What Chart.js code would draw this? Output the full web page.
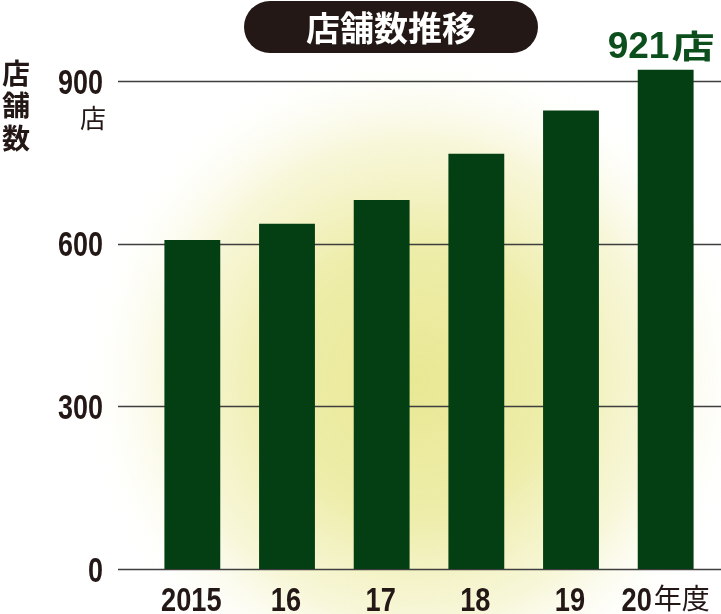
<!DOCTYPE html>
<html>
<head>
<meta charset="utf-8">
<script src="https://cdn.jsdelivr.net/npm/chart.js@4.4.1/dist/chart.umd.min.js"></script>
<style>
  html, body { margin: 0; padding: 0; background: #fff; }
  #wrap { width: 721px; height: 614px; }
</style>
</head>
<body>
<div id="wrap"><canvas id="mycanvas" width="721" height="614"></canvas></div>
<script>
var years = ["2015", "16", "17", "18", "19", "20"];
var stores = [607, 637, 681, 766, 846, 921];
var yTicks = [0, 300, 600, 900];
var chartTitle = "店舗数推移";
var yTitle = ["店", "舗", "数"];
var unit = "店";
var lastSuffix = "年度";

var num = '"Liberation Sans", Arial, sans-serif';
var jp = '"Noto Sans CJK JP", sans-serif';
var ink = "#231815";
var barColor = "#033f12";

// draw text squeezed horizontally (the original uses a condensed face)
function squeezed(ctx, text, x, y, sx, align){
	var w = ctx.measureText(text).width * sx;
	var left = align === "right" ? x - w : (align === "center" ? x - w / 2 : x);
	ctx.save();
	ctx.translate(left, y);
	ctx.scale(sx, 1);
	ctx.textAlign = "left";
	ctx.fillText(text, 0, 0);
	ctx.restore();
	return w;
}

var decor = {
	id: "decor",
	beforeDraw: function(chart){
		var ctx = chart.ctx;
		ctx.save();
		var g = ctx.createRadialGradient(415, 380, 0, 415, 380, 340);
		g.addColorStop(0, "rgba(233,232,148,1)");
		g.addColorStop(0.4, "rgba(237,236,165,0.95)");
		g.addColorStop(0.7, "rgba(244,243,200,0.7)");
		g.addColorStop(1, "rgba(255,255,255,0)");
		ctx.fillStyle = g;
		ctx.fillRect(0, 0, chart.width, chart.height);
		ctx.restore();
	},
	beforeDatasetsDraw: function(chart){
		var ctx = chart.ctx, y = chart.scales.y;
		ctx.save();
		ctx.strokeStyle = "#3e3e3e";
		ctx.lineWidth = 1.5;
		yTicks.forEach(function(v){
			var py = Math.round(y.getPixelForValue(v)) + 0.5;
			ctx.beginPath();
			ctx.moveTo(118, py);
			ctx.lineTo(chart.width, py);
			ctx.stroke();
		});
		ctx.restore();
	},
	afterDraw: function(chart){
		var ctx = chart.ctx, x = chart.scales.x, y = chart.scales.y;
		ctx.save();

		// title pill
		var l = 244, r = 538, t = 1, b = 53, rad = (b - t) / 2;
		ctx.fillStyle = ink;
		ctx.beginPath();
		ctx.moveTo(l + rad, t);
		ctx.lineTo(r - rad, t);
		ctx.arc(r - rad, t + rad, rad, -Math.PI / 2, Math.PI / 2);
		ctx.lineTo(l + rad, b);
		ctx.arc(l + rad, t + rad, rad, Math.PI / 2, Math.PI * 1.5);
		ctx.fill();
		ctx.fillStyle = "#fff";
		ctx.font = "bold 34px " + jp;
		ctx.textAlign = "center";
		ctx.textBaseline = "middle";
		ctx.fillText(chartTitle, 391, 28);

		// vertical axis title
		ctx.fillStyle = ink;
		ctx.font = "bold 28px " + jp;
		yTitle.forEach(function(ch, i){
			ctx.fillText(ch, 16, 73 + i * 32.5);
		});

		// y tick labels
		ctx.font = "bold 35px " + num;
		ctx.textBaseline = "alphabetic";
		yTicks.forEach(function(v){
			squeezed(ctx, String(v), 103, y.getPixelForValue(v) + 12.5, 0.77, "right");
		});
		ctx.font = "26px " + jp;
		ctx.textBaseline = "middle";
		ctx.textAlign = "center";
		ctx.fillText(unit, 93, 118);

		// category labels
		ctx.textBaseline = "alphabetic";
		years.forEach(function(lab, i){
			var px = x.getPixelForValue(i);
			ctx.font = "bold 34px " + num;
			if (i === years.length - 1) {
				var w1 = ctx.measureText(lab).width * 0.8;
				ctx.font = "28px " + jp;
				var w2 = ctx.measureText(lastSuffix).width;
				var start = px - (w1 + 2 + w2) / 2;
				ctx.font = "bold 34px " + num;
				squeezed(ctx, lab, start, 611, 0.8, "left");
				ctx.font = "28px " + jp;
				ctx.textAlign = "left";
				ctx.fillText(lastSuffix, start + w1 + 2, 609);
			} else {
				squeezed(ctx, lab, px - 1, 611, 0.8, "center");
			}
		});

		// value callout on the latest bar
		var last = stores.length - 1;
		var bx = x.getPixelForValue(last);
		var by = y.getPixelForValue(stores[last]);
		ctx.fillStyle = "#0c4f1c";
		ctx.font = "bold 37px " + num;
		var w3 = ctx.measureText(String(stores[last])).width;
		var sx = bx - 58;
		ctx.textAlign = "left";
		ctx.fillText(String(stores[last]), sx, by - 12);
		ctx.font = "bold 32px " + jp;
		squeezed(ctx, unit, sx + w3 + 2, by - 12, 1.35, "left");
		ctx.restore();
	}
};

var ctx = document.getElementById("mycanvas");
var storeChart = new Chart(ctx, {
	type: "bar",
	data: {
		labels: years,
		datasets: [{
			label: "店舗数",
			data: stores,
			backgroundColor: barColor,
			borderWidth: 0,
			categoryPercentage: 1,
			barPercentage: 0.59
		}]
	},
	options: {
		responsive: false,
		animation: false,
		layout: { padding: { top: 27, bottom: 45, right: 8, left: 0 } },
		plugins: { legend: { display: false }, tooltip: { enabled: false } },
		scales: {
			x: { display: false },
			y: {
				min: 0,
				max: 1000,
				afterBuildTicks: function(scale){
					scale.ticks = yTicks.map(function(v){ return { value: v }; });
				},
				afterFit: function(scale){ scale.width = 145; },
				grid: { display: false, drawTicks: false },
				border: { display: false },
				ticks: { display: false }
			}
		}
	},
	plugins: [decor]
});
</script>
</body>
</html>
